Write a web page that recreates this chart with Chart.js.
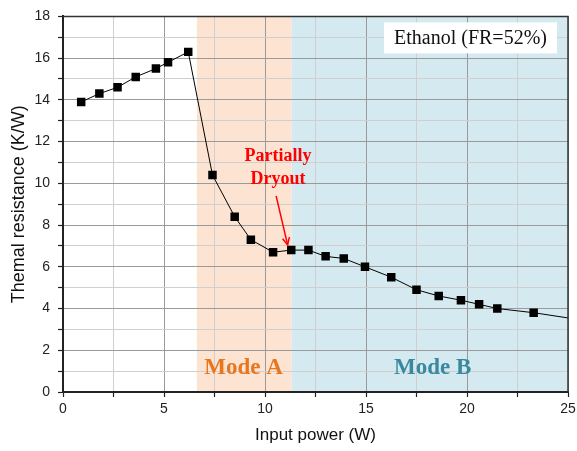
<!DOCTYPE html>
<html>
<head>
<meta charset="utf-8">
<script src="https://cdn.jsdelivr.net/npm/chart.js@4.4.1/dist/chart.umd.min.js"></script>
<style>
html,body{margin:0;padding:0;background:#fff;}
#wrap{width:577px;height:451px;position:relative;}
</style>
</head>
<body>
<div id="wrap"><canvas id="c" width="577" height="451"></canvas></div>
<script>
// ---- data ----
const inputPower = [0.9, 1.8, 2.7, 3.6, 4.6, 5.2, 6.2, 7.4, 8.5, 9.3, 10.4, 11.3, 12.15, 13.0, 13.9, 14.95, 16.25, 17.5, 18.6, 19.7, 20.6, 21.5, 23.3, 25.0];
const thermalResistance = [13.9, 14.3, 14.6, 15.1, 15.5, 15.8, 16.3, 10.4, 8.4, 7.3, 6.7, 6.8, 6.8, 6.5, 6.4, 6.0, 5.5, 4.9, 4.6, 4.4, 4.2, 4.0, 3.8, 3.55];
const markerShown = [1,1,1,1,1,1,1,1,1,1,1,1,1,1,1,1,1,1,1,1,1,1,1,0];
const modeNames = ['Mode A', 'Mode B'];
const modeBounds = [6.63, 11.32, 25];
const xTickLabels = [0, 5, 10, 15, 20, 25];
const yTickLabels = [0, 2, 4, 6, 8, 10, 12, 14, 16, 18];
const legendText = 'Ethanol (FR=52%)';
const noteLines = ['Partially', 'Dryout'];

// ---- styles ----
const modeFill = ['#fde4d2', '#d4eaf0'];
const modeText = ['#e8761e', '#3a889e'];

const points = inputPower.map((x, i) => ({x, y: thermalResistance[i]}));

const decor = {
  id: 'decor',
  beforeDraw(chart) {
    const {ctx, chartArea: a, scales: {x, y}} = chart;
    ctx.save();
    ctx.fillStyle = '#fff';
    ctx.fillRect(0, 0, chart.width, chart.height);
    for (let i = 0; i < modeNames.length; i++) {
      const x0 = x.getPixelForValue(modeBounds[i]);
      const x1 = x.getPixelForValue(modeBounds[i + 1]);
      ctx.fillStyle = modeFill[i];
      ctx.fillRect(x0, a.top, x1 - x0, a.bottom - a.top);
    }
    ctx.restore();
  },
  afterDatasetsDraw(chart) {
    const {ctx, chartArea: a, scales: {x, y}} = chart;
    ctx.save();
    // mode labels
    ctx.font = 'bold 23px "Liberation Serif", "Times New Roman", serif';
    ctx.textAlign = 'center';
    ctx.textBaseline = 'middle';
    const modeCenters = [8.94, 18.3];
    for (let i = 0; i < modeNames.length; i++) {
      ctx.fillStyle = modeText[i];
      ctx.fillText(modeNames[i], x.getPixelForValue(modeCenters[i]), y.getPixelForValue(1.17));
    }
    // partially dryout note
    ctx.fillStyle = '#ff0000';
    ctx.font = 'bold 18px "Liberation Serif", "Times New Roman", serif';
    ctx.fillText(noteLines[0], x.getPixelForValue(10.64), y.getPixelForValue(11.27));
    ctx.fillText(noteLines[1], x.getPixelForValue(10.64), y.getPixelForValue(10.17));
    // arrow
    const ax0 = x.getPixelForValue(10.55), ay0 = y.getPixelForValue(9.4);
    const ax1 = x.getPixelForValue(11.12), ay1 = y.getPixelForValue(7.05);
    ctx.strokeStyle = '#ff0000';
    ctx.lineWidth = 1.5;
    ctx.beginPath(); ctx.moveTo(ax0, ay0); ctx.lineTo(ax1, ay1); ctx.stroke();
    const ang = Math.atan2(ay1 - ay0, ax1 - ax0);
    const hl = 8;
    ctx.beginPath();
    ctx.moveTo(ax1 - hl * Math.cos(ang - 0.45), ay1 - hl * Math.sin(ang - 0.45));
    ctx.lineTo(ax1, ay1);
    ctx.lineTo(ax1 - hl * Math.cos(ang + 0.45), ay1 - hl * Math.sin(ang + 0.45));
    ctx.stroke();
    // legend box
    const bw = 173, bh = 31;
    const bx = a.right - 11 - bw, by = a.top + 6;
    ctx.fillStyle = '#fff';
    ctx.fillRect(bx, by, bw, bh);
    ctx.fillStyle = '#111';
    ctx.font = '20px "Liberation Serif", "Times New Roman", serif';
    ctx.fillText(legendText, bx + bw / 2, by + bh / 2 + 1);
    ctx.restore();
  },
  afterDraw(chart) {
    const {ctx, chartArea: a} = chart;
    ctx.save();
    ctx.strokeStyle = '#333';
    ctx.lineWidth = 1.5;
    ctx.beginPath();
    ctx.moveTo(a.left, a.top);
    ctx.lineTo(a.right, a.top);
    ctx.lineTo(a.right, a.bottom);
    ctx.stroke();
    ctx.restore();
  }
};

new Chart(document.getElementById('c'), {
  type: 'line',
  data: {
    datasets: [{
      data: points,
      borderColor: '#000',
      borderWidth: 1,
      backgroundColor: '#000',
      pointStyle: 'rect',
      pointRadius: ctx => markerShown[ctx.dataIndex] ? 6 : 0,
      pointBorderWidth: 0,
      tension: 0,
      clip: 0
    }]
  },
  options: {
    responsive: false,
    animation: false,
    devicePixelRatio: 1,
    layout: {padding: {top: 16, right: 9, left: 0, bottom: 0}},
    plugins: {legend: {display: false}, tooltip: {enabled: false}},
    scales: {
      x: {
        type: 'linear', min: 0, max: 25,
        afterFit(s) { s.height = 59; s.paddingRight = 0; },
        ticks: {
          stepSize: 2.5, autoSkip: false, maxRotation: 0, padding: 4,
          color: '#222',
          font: {family: '"Liberation Sans", Arial, sans-serif', size: 14},
          callback: v => xTickLabels.includes(v) ? String(v) : ''
        },
        grid: {
          color: c => (c.tick && c.tick.value % 5 === 0) ? '#9a9a9a' : '#cfcfcf',
          lineWidth: 1,
          tickColor: '#222', tickLength: 5, tickWidth: 1.2
        },
        border: {display: true, color: '#222', width: 2},
        title: {
          display: true, text: 'Input power (W)', color: '#111',
          font: {family: '"Liberation Sans", Arial, sans-serif', size: 17},
          padding: {top: 4, bottom: 5}
        }
      },
      y: {
        type: 'linear', min: 0, max: 18,
        afterFit(s) { s.width = 63; },
        ticks: {
          stepSize: 1, autoSkip: false, padding: 8,
          color: '#222',
          font: {family: '"Liberation Sans", Arial, sans-serif', size: 14},
          callback: v => yTickLabels.includes(v) ? String(v) : ''
        },
        grid: {
          color: c => (c.tick && c.tick.value % 2 === 0) ? '#9a9a9a' : '#cfcfcf',
          lineWidth: 1,
          tickColor: '#222', tickLength: 5, tickWidth: 1.2
        },
        border: {display: true, color: '#222', width: 2},
        title: {
          display: true, text: 'Themal resistance (K/W)', color: '#111',
          font: {family: '"Liberation Sans", Arial, sans-serif', size: 18},
          padding: {top: 8, bottom: 4}
        }
      }
    }
  },
  plugins: [decor]
});
</script>
</body>
</html>
